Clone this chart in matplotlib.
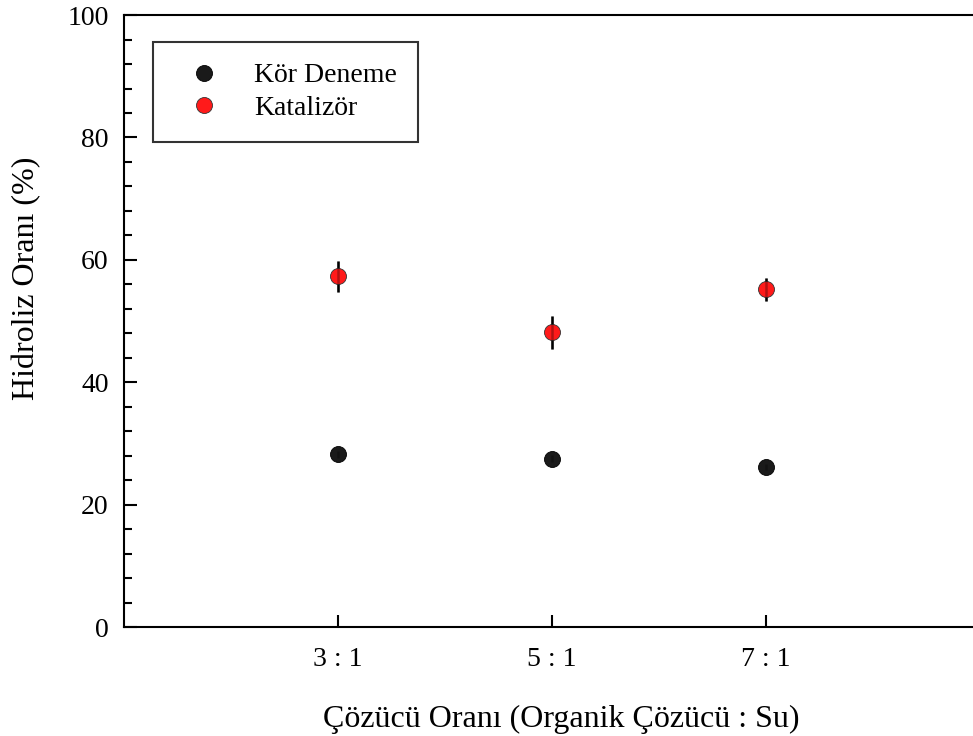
import matplotlib.pyplot as plt
from matplotlib.lines import Line2D
from matplotlib.ticker import MultipleLocator

# solvent ratio categories and hydrolysis results (%)
ratios = ['3 : 1', '5 : 1', '7 : 1']
blank = [28.2, 27.5, 26.1]
blank_err = [0.5, 0.6, 0.5]
catalyst = [57.3, 48.2, 55.2]
catalyst_err = [2.5, 2.7, 1.9]

plt.rcParams['font.family'] = ['Liberation Serif', 'DejaVu Serif']

fig = plt.figure(figsize=(9.73, 7.36), dpi=100)
ax = fig.add_axes([0.1274, 0.148, 0.880, 0.8315])

x = list(range(1, len(ratios) + 1))

styles = [
    ('Kör Deneme', blank, blank_err, '#1a1a1a', 'black'),
    ('Katalizör', catalyst, catalyst_err, '#ff1a1a', '#333333'),
]
handles = []
for label, vals, errs, face, edge in styles:
    ax.errorbar(x, vals, yerr=errs, fmt='o', color='black', ecolor='black',
                elinewidth=1.8, capsize=0, markersize=11.5, markerfacecolor=face,
                markeredgecolor=edge, markeredgewidth=0.6, zorder=2)
    # faint bar over the marker face
    ax.errorbar(x, vals, yerr=errs, fmt='none', ecolor='black', elinewidth=1.8,
                capsize=0, alpha=0.3, zorder=3)
    handles.append(Line2D([], [], linestyle='none', marker='o', markersize=11.5,
                          markerfacecolor=face, markeredgecolor=edge,
                          markeredgewidth=0.6, label=label))

ax.set_xlim(0, 4)
ax.set_ylim(0, 100)
ax.set_xticks(x)
ax.set_xticklabels(ratios)
ax.yaxis.set_major_locator(MultipleLocator(20))
ax.yaxis.set_minor_locator(MultipleLocator(4))

ax.spines['right'].set_visible(False)
for side in ['top', 'left', 'bottom']:
    ax.spines[side].set_linewidth(1.5)

ax.tick_params(axis='both', which='major', direction='in', length=9, width=1.5,
               labelsize=20, pad=11)
ax.tick_params(axis='y', which='minor', direction='in', length=6, width=1.5)
ax.tick_params(axis='x', which='major', pad=14)

ax.set_xlabel('Çözücü Oranı (Organik Çözücü : Su)', fontsize=23, labelpad=24, x=0.5105)
ax.set_ylabel('Hidroliz Oranı (%)', fontsize=23, labelpad=19, y=0.57)

leg = ax.legend(handles=handles, loc='upper left', bbox_to_anchor=(0.0339, 0.956),
                borderaxespad=0, fontsize=20, frameon=True, fancybox=False,
                edgecolor='black', borderpad=0.75, handlelength=2.2,
                handletextpad=0.7, labelspacing=0.25)
leg.get_frame().set_linewidth(1.5)

fig.savefig('out.png', dpi=100)
